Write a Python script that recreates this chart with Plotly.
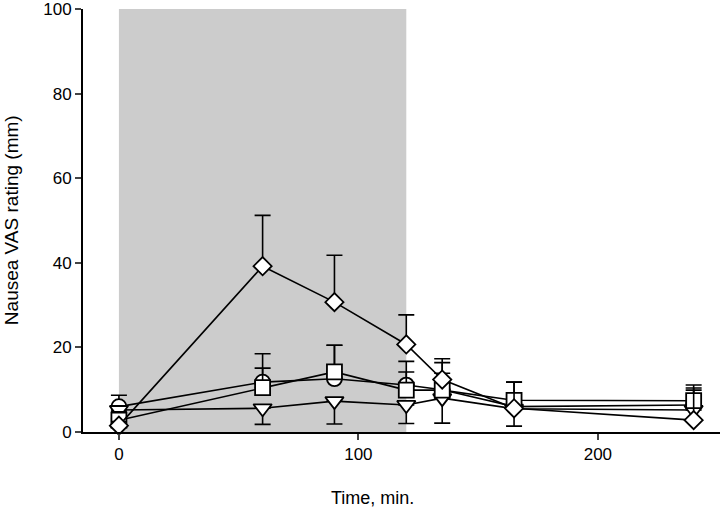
import plotly.graph_objects as go

time_min = [0, 60, 90, 120, 135, 165, 240]

circle_vals = [6.0, 11.8, 12.6, 11.1, 10.0, 6.0, 6.4]
circle_err_up = [2.7, 3.3, 7.9, 3.1, 6.4, 3.0, 4.0]

square_vals = [2.8, 10.5, 14.2, 9.9, 9.9, 7.5, 7.4]
square_err_up = [2.0, 8.0, 6.3, 6.8, 4.0, 4.3, 3.7]

triangle_vals = [5.2, 5.6, 7.3, 6.4, 8.0, 5.5, 5.2]
triangle_err_down = [2.0, 3.8, 5.4, 4.4, 5.9, 4.1, 2.5]

diamond_vals = [1.5, 39.2, 30.7, 20.7, 12.4, 5.6, 2.8]
diamond_err_up = [1.0, 12.0, 11.1, 7.0, 4.9, 6.2, 7.1]

y_ticks = [0, 20, 40, 60, 80, 100]
x_ticks = [0, 100, 200]

infusion_start, infusion_end = 0, 120

FONT = "Liberation Sans, Arial, sans-serif"

fig = go.Figure()

def add_series(y, symbol, size, up=None, down=None):
    if up is not None:
        err = dict(type="data", symmetric=False, array=up,
                   arrayminus=[0] * len(up), color="black", thickness=1.6, width=8)
    else:
        err = dict(type="data", symmetric=False, array=[0] * len(down),
                   arrayminus=down, color="black", thickness=1.6, width=8)
    fig.add_trace(go.Scatter(
        x=time_min, y=y, mode="lines+markers",
        line=dict(color="black", width=1.6),
        marker=dict(symbol=symbol, size=size, color="white",
                    line=dict(color="black", width=1.8)),
        error_y=err, cliponaxis=False, showlegend=False))

add_series(circle_vals, "circle", 15, up=circle_err_up)
add_series(triangle_vals, "triangle-down", 16, down=triangle_err_down)
add_series(square_vals, "square", 15, up=square_err_up)
add_series(diamond_vals, "diamond", 14, up=diamond_err_up)

fig.add_shape(type="rect", xref="x", yref="y", x0=infusion_start, x1=infusion_end,
              y0=0, y1=100, fillcolor="#cccccc", line=dict(width=0), layer="below")

fig.update_xaxes(range=[-15, 251], tickvals=x_ticks, ticks="outside", ticklen=6,
                 tickwidth=1.6, showline=True, linewidth=2, linecolor="black",
                 showgrid=False, zeroline=False, ticklabeloverflow="allow",
                 tickfont=dict(family=FONT, size=17, color="black"))
fig.update_yaxes(range=[0, 100], tickvals=y_ticks, ticks="outside", ticklen=6,
                 tickwidth=1.6, showline=True, linewidth=2, linecolor="black",
                 showgrid=False, zeroline=False, ticklabeloverflow="allow",
                 tickfont=dict(family=FONT, size=17, color="black"))

fig.add_annotation(text="Time, min.", xref="paper", yref="paper",
                   x=0.455, y=-0.155, yanchor="middle", xanchor="center",
                   showarrow=False, font=dict(family=FONT, size=18, color="black"))
fig.add_annotation(text="Nausea VAS rating (mm)", xref="paper", yref="paper",
                   x=-0.112, y=0.5, xanchor="center", yanchor="middle", textangle=-90,
                   showarrow=False, font=dict(family=FONT, size=19, color="black"))

fig.update_layout(width=720, height=509, margin=dict(l=83, r=0, t=7, b=77),
                  plot_bgcolor="white", paper_bgcolor="white")

fig.write_html("out.html", config={"displayModeBar": False},
               post_script="document.body.style.margin='0';document.body.style.overflow='hidden';")
